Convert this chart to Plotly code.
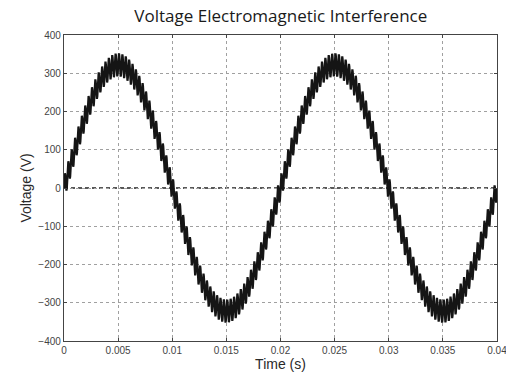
import numpy as np
import plotly.graph_objects as go

# Signal parameters: 50 Hz mains voltage with superimposed high-frequency interference
fundamental_amplitude_v = 322.0
fundamental_freq_hz = 50.0
ripple_amplitude_v = 30.0
ripple_freq_hz = 3200.0
t_start_s = 0.0
t_end_s = 0.04
n_samples = 8000

# Axis ticks
x_ticks = [0, 0.005, 0.01, 0.015, 0.02, 0.025, 0.03, 0.035, 0.04]
x_tick_labels = ["0", "0.005", "0.01", "0.015", "0.02", "0.025", "0.03", "0.035", "0.04"]
y_ticks = [-400, -300, -200, -100, 0, 100, 200, 300, 400]

t = np.linspace(t_start_s, t_end_s, n_samples)
v = (fundamental_amplitude_v * np.sin(2 * np.pi * fundamental_freq_hz * t)
     + ripple_amplitude_v * np.sin(2 * np.pi * ripple_freq_hz * t))

fig = go.Figure()
fig.add_trace(go.Scatter(x=t, y=v, mode="lines",
                         line=dict(color="#151515", width=2.2),
                         showlegend=False, hoverinfo="skip"))

# Darker dashed reference line at 0 V
fig.add_shape(type="line", xref="paper", x0=0, x1=1, yref="y", y0=0, y1=0,
              line=dict(color="#222222", width=1.4, dash="4px,3px"), layer="below")

tick_font = dict(family="Liberation Sans, Arial, sans-serif", size=10, color="#444444")
axis_title_font = dict(family="Liberation Sans, Arial, sans-serif", size=14, color="#2a2a2a")
fig.update_layout(
    width=506, height=377,
    margin=dict(l=64, r=9, t=35, b=36),
    paper_bgcolor="white", plot_bgcolor="white",
    title=dict(text="Voltage Electromagnetic Interference",
               font=dict(family="Open Sans, sans-serif", size=17, color="#1a1a1a"),
               x=0.555, xanchor="center", y=0.972, yanchor="top"),
    xaxis=dict(range=[t_start_s, t_end_s], tickvals=x_ticks, ticktext=x_tick_labels,
               ticklabeloverflow="allow", automargin=False,
               showgrid=True, gridcolor="#a0a0a0", griddash="dot", gridwidth=1,
               zeroline=False, showline=True, linecolor="#444444", linewidth=1.3,
               mirror="ticks", ticks="inside", ticklen=3, tickcolor="#444444",
               tickfont=tick_font,
               title=dict(text="Time (s)", standoff=1, font=axis_title_font)),
    yaxis=dict(range=[-400, 400], tickvals=y_ticks, automargin=False,
               showgrid=True, gridcolor="#a0a0a0", griddash="3px,3px", gridwidth=1,
               zeroline=False, showline=True, linecolor="#444444", linewidth=1.3,
               mirror="ticks", ticks="inside", ticklen=3, tickcolor="#444444",
               tickfont=tick_font,
               title=dict(text="Voltage (V)", standoff=3, font=axis_title_font)),
)

fig.write_html("out.html")
